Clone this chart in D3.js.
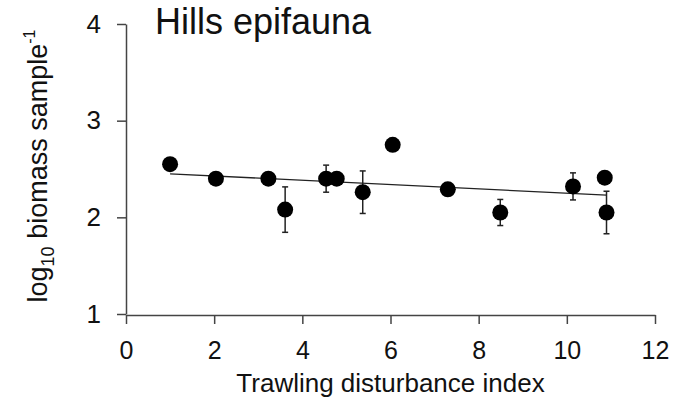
<!DOCTYPE html>
<html>
<head>
<meta charset="utf-8">
<script src="https://cdn.jsdelivr.net/npm/d3@7"></script>
<style>
  body { margin: 0; background: #fff; }
  text { font-family: "Liberation Sans", Arial, sans-serif; fill: #111; }
</style>
</head>
<body>
<div id="chart-area"></div>
<script>
const width = 684, height = 407;

// data
const disturbance = [1.0, 2.04, 3.23, 3.61, 4.54, 4.78, 5.37, 6.05, 7.30, 8.49, 10.14, 10.86, 10.90];
const biomass     = [2.55, 2.40, 2.40, 2.08, 2.40, 2.40, 2.26, 2.75, 2.29, 2.05, 2.32, 2.41, 2.05];
const errBar      = [0, 0, 0, 0.235, 0.14, 0, 0.22, 0, 0, 0.135, 0.14, 0, 0.22];
const xTicks = [0, 2, 4, 6, 8, 10, 12];
const yTicks = [1, 2, 3, 4];
// fitted line end points
const fitX = [1.0, 10.9];
const fitY = [2.45, 2.23];

const data = disturbance.map((d, i) => ({x: d, y: biomass[i], e: errBar[i]}));

const svg = d3.select("#chart-area")
  .append("svg")
  .attr("width", width)
  .attr("height", height);

const x = d3.scaleLinear().domain([0, 12]).range([126, 655]);
const y = d3.scaleLinear().domain([1, 4]).range([314, 24]);

// axes
const xAxis = g => g
  .attr("transform", `translate(0,${y(1) + 1})`)
  .call(d3.axisBottom(x).tickValues(xTicks).tickFormat(d3.format("d"))
      .tickSize(9).tickPadding(17).tickSizeOuter(0))
  .call(g => g.select(".domain").attr("stroke", "#444").attr("stroke-width", 1.5))
  .call(g => g.selectAll(".tick line").attr("stroke", "#444").attr("stroke-width", 1.5))
  .call(g => g.selectAll(".tick text").attr("font-size", 25).attr("fill", "#111")
      .attr("font-family", "Liberation Sans, Arial, sans-serif"));

const yAxis = g => g
  .attr("transform", `translate(${x(0)},0)`)
  .call(d3.axisLeft(y).tickValues(yTicks).tickFormat(d3.format("d"))
      .tickSize(9).tickPadding(16).tickSizeOuter(0))
  .call(g => g.select(".domain").attr("stroke", "#444").attr("stroke-width", 1.5))
  .call(g => g.selectAll(".tick line").attr("stroke", "#444").attr("stroke-width", 1.5))
  .call(g => g.selectAll(".tick text").attr("font-size", 26).attr("fill", "#111")
      .attr("font-family", "Liberation Sans, Arial, sans-serif"));

svg.append("g").call(xAxis);
svg.append("g").call(yAxis);

// fitted line
svg.append("line")
  .attr("x1", x(fitX[0])).attr("y1", y(fitY[0]))
  .attr("x2", x(fitX[1])).attr("y2", y(fitY[1]))
  .attr("stroke", "#222")
  .attr("stroke-width", 1.3);

// error bars
const bars = svg.append("g")
  .selectAll("g")
  .data(data.filter(d => d.e > 0))
  .join("g")
  .attr("stroke", "#222")
  .attr("stroke-width", 1.5);

bars.append("line")
  .attr("x1", d => x(d.x)).attr("x2", d => x(d.x))
  .attr("y1", d => y(d.y - d.e)).attr("y2", d => y(d.y + d.e));
bars.append("line")
  .attr("x1", d => x(d.x) - 3).attr("x2", d => x(d.x) + 3)
  .attr("y1", d => y(d.y - d.e)).attr("y2", d => y(d.y - d.e));
bars.append("line")
  .attr("x1", d => x(d.x) - 3).attr("x2", d => x(d.x) + 3)
  .attr("y1", d => y(d.y + d.e)).attr("y2", d => y(d.y + d.e));

// points
svg.append("g")
  .selectAll("circle")
  .data(data)
  .join("circle")
  .attr("cx", d => x(d.x))
  .attr("cy", d => y(d.y))
  .attr("r", 8)
  .attr("fill", "#000");

// title
svg.append("text")
  .attr("x", 155)
  .attr("y", 34)
  .attr("font-size", 36)
  .text("Hills epifauna");

// x title
svg.append("text")
  .attr("x", x(6))
  .attr("y", 392)
  .attr("text-anchor", "middle")
  .attr("font-size", 26)
  .text("Trawling disturbance index");

// y title
const yt = svg.append("text")
  .attr("transform", `translate(47,166) rotate(-90)`)
  .attr("text-anchor", "middle")
  .attr("font-size", 27);
yt.append("tspan").text("log");
yt.append("tspan").attr("font-size", 18).attr("dy", 7).text("10");
yt.append("tspan").attr("dy", -7).text(" biomass sample");
yt.append("tspan").attr("font-size", 16).attr("dy", -12).text("-1");
</script>
</body>
</html>
